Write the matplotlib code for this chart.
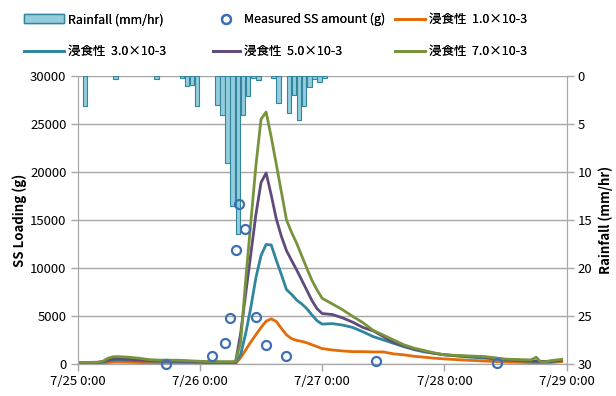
import matplotlib
matplotlib.use("Agg")
import matplotlib.pyplot as plt
from matplotlib.patches import Patch
from matplotlib.lines import Line2D

plt.rcParams['font.family'] = ['Noto Sans CJK JP', 'DejaVu Sans']
plt.rcParams['font.size'] = 9.5

# hours counted from 7/25 0:00
day_labels = ['7/25 0:00', '7/26 0:00', '7/27 0:00', '7/28 0:00', '7/29 0:00']

# hourly rainfall (bar covers [h, h+1))
rain_hours = [1, 7, 15, 20, 21, 22, 23, 27, 28, 29, 30, 31, 32, 33, 34, 35,
              38, 39, 41, 42, 43, 44, 45, 46, 47, 48]
rain_mm = [3.1, 0.3, 0.3, 0.2, 1.0, 0.9, 3.1, 3.0, 4.1, 9.1, 13.5, 16.5, 4.1, 2.1, 0.25, 0.45,
           0.2, 2.8, 3.9, 2.0, 4.6, 3.1, 1.1, 0.3, 0.65, 0.2]

# measured SS
obs_hours = [17.3, 26.3, 28.9, 29.9, 31.0, 31.7, 32.8, 35.0, 36.9, 40.9, 58.5, 82.3]
obs_ss = [0, 870, 2220, 4820, 11880, 16630, 14090, 4930, 1980, 830, 310, 50]

# simulated SS loading
sim_hours = [0, 4, 5, 6, 7, 8, 10, 12, 14, 16, 20, 25, 30,
             31, 32, 33, 34, 35, 36, 37, 38, 39, 40, 41, 42, 43, 44, 45, 46, 47, 48,
             50, 52, 54, 56, 58, 60, 62, 64, 66, 68, 70, 72,
             76, 80, 84, 88, 89, 90, 91, 93, 95]
ss_1e3 = [50, 60, 100, 150, 200, 200, 180, 150, 120, 100, 80, 50, 30,
          30, 650, 1470, 2290, 3050, 3800, 4450, 4700, 4420, 3700, 3030, 2630, 2450, 2350, 2200, 2000, 1800, 1600,
          1450, 1350, 1280, 1280, 1250, 1250, 1050, 950, 800, 700, 600, 520,
          400, 300, 200, 150, 120, 100, 100, 150, 250]
ss_3e3 = [100, 120, 200, 350, 420, 430, 400, 350, 300, 280, 250, 150, 120,
          120, 1000, 3200, 5900, 9000, 11300, 12450, 12400, 10800, 9300, 7740, 7250, 6650, 6250, 5750, 5100, 4500, 4150,
          4200, 4050, 3800, 3350, 2850, 2500, 2150, 1800, 1500, 1250, 1100, 950,
          750, 600, 400, 300, 280, 250, 230, 250, 350]
ss_5e3 = [150, 170, 250, 400, 500, 520, 480, 400, 350, 320, 300, 200, 180,
          180, 3200, 7350, 11470, 15590, 18900, 19900, 17600, 15100, 13290, 11800, 10780, 9790, 8730, 7670, 6600, 5750, 5250,
          5150, 4800, 4350, 3800, 3450, 2850, 2250, 1900, 1550, 1350, 1100, 950,
          800, 700, 450, 350, 330, 300, 250, 280, 400]
ss_7e3 = [150, 170, 300, 600, 750, 760, 700, 600, 450, 400, 380, 250, 230,
          250, 2300, 8800, 14800, 20700, 25500, 26250, 23650, 20800, 17900, 15000, 13700, 12570, 11250, 9950, 8700, 7700, 6840,
          6250, 5650, 4950, 4300, 3500, 3000, 2500, 2000, 1650, 1400, 1150, 950,
          850, 760, 500, 430, 420, 700, 150, 350, 480]

series = [
    (ss_1e3, '#E36C09', '浸食性  1.0×10-3'),
    (ss_3e3, '#31859C', '浸食性  3.0×10-3'),
    (ss_5e3, '#604A7B', '浸食性  5.0×10-3'),
    (ss_7e3, '#77933C', '浸食性  7.0×10-3'),
]

fig = plt.figure(figsize=(6.16, 3.96), dpi=100)
ax = fig.add_axes([0.126, 0.081, 0.794, 0.727])
ax2 = ax.twinx()

# rainfall on the back axis, hanging from the top
ax2.bar(rain_hours, rain_mm, width=0.92, align='edge', color='#93CDDD',
        edgecolor='#31859C', linewidth=0.8, zorder=2)
ax2.set_ylim(30, 0)
ax2.set_yticks(range(0, 31, 5))
ax2.yaxis.grid(True, color='#A6A6A6', linewidth=1, zorder=0)
ax2.set_axisbelow(True)
ax2.set_ylabel('Rainfall (mm/hr)', fontweight='bold', labelpad=4)

# SS loading in front
ax.set_zorder(ax2.get_zorder() + 1)
ax.patch.set_visible(False)
for vals, col, lab in series:
    ax.plot(sim_hours, vals, color=col, linewidth=2.0, solid_joinstyle='round')
ax.plot(obs_hours, obs_ss, 'o', markerfacecolor='none', markeredgecolor='#3F6FB3',
        markeredgewidth=1.6, markersize=6.5, clip_on=False, zorder=5)

ax.set_xlim(0, 96)
ax.set_ylim(0, 30000)
ax.set_yticks(range(0, 30001, 5000))
ax.set_xticks([0, 24, 48, 72, 96])
ax.set_xticklabels(day_labels)
ax.set_ylabel('SS Loading (g)', fontweight='bold', labelpad=2)

for a in (ax, ax2):
    for s in a.spines.values():
        s.set_color('#A6A6A6')
    a.spines['top'].set_visible(False)
    a.tick_params(color='#A6A6A6', length=5, width=1, labelsize=9.5, pad=3)

# legend: three columns, two rows each
h_rain = Patch(facecolor='#93CDDD', edgecolor='#31859C', label='Rainfall (mm/hr)')
h_obs = Line2D([], [], marker='o', linestyle='none', markerfacecolor='none',
               markeredgecolor='#3F6FB3', markeredgewidth=1.6, markersize=6.5,
               label='Measured SS amount (g)')
h_lines = [Line2D([], [], color=c, linewidth=2.0, label=l) for _, c, l in series]

columns = [
    ([h_rain, h_lines[1]], 0.022, 3.2),
    ([h_obs, h_lines[2]], 0.330, 2.1),
    ([h_lines[0], h_lines[3]], 0.625, 2.4),
]
for hs, x0, hl in columns:
    leg = fig.legend(handles=hs, loc='upper left', bbox_to_anchor=(x0, 0.992),
                     frameon=False, fontsize=9, handlelength=hl, handletextpad=0.35,
                     labelspacing=1.5, borderaxespad=0.5, borderpad=0.3)
    fig.add_artist(leg)

fig.savefig('out.png', dpi=100)
